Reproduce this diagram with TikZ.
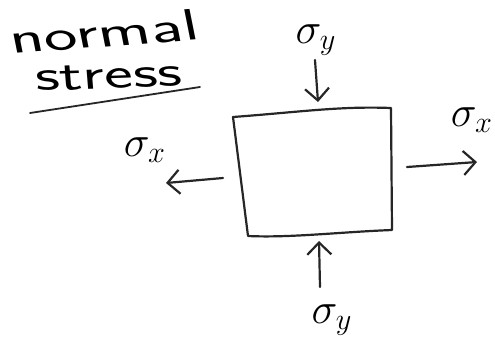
\documentclass[tikz,border=0pt]{standalone}
\usetikzlibrary{arrows.meta}
\begin{document}
\begin{tikzpicture}[x=1pt,y=-1pt, line cap=round, line join=round,
  ink/.style={line width=2.2pt, black!85},
  force/.style={ink, -{Straight Barb[length=12pt,width=24pt,line width=2.2pt]}},
  lbl/.style={inner sep=0pt, font=\fontsize{20}{20}\selectfont, scale=2.1, transform shape},
  titletext/.style={inner sep=0pt, font=\sffamily\fontsize{44}{44}\selectfont, transform shape}]
\useasboundingbox (0,0) rectangle (495,354);
% box corners
\coordinate (tl) at (233,117);
\coordinate (tr) at (391,108);
\coordinate (br) at (392,230);
\coordinate (bl) at (248,236);
\draw[ink] (tl) .. controls (300,112) and (340,106) .. (tr) -- (br) .. controls (340,232) and (290,238) .. (bl) -- cycle;
% title
\node[titletext, xscale=1.62, rotate=7, anchor=base west] (t1) at (12,54) {normal};
\node[titletext, xscale=1.55, rotate=3, anchor=base west] (t2) at (36,91) {stress};
\coordinate (u1) at (30,113);
\coordinate (u2) at (200,87);
\draw[ink, line width=1.8pt] (u1) -- (u2);
% labels
\node[lbl] (sytop) at (316,40) {$\sigma_y$};
\node[lbl] (sybot) at (332,320) {$\sigma_y$};
\node[lbl] (sxl) at (145,150) {$\sigma_x$};
\node[lbl] (sxr) at (472,120) {$\sigma_x$};
% arrows
\coordinate (a1s) at (315,60);
\coordinate (a1e) at (318,102);
\coordinate (a2s) at (320,287);
\coordinate (a2e) at (319,241);
\coordinate (a3s) at (223,178);
\coordinate (a3e) at (166,183);
\coordinate (a4s) at (407,167);
\coordinate (a4e) at (477,162);
\draw[force] (a1s) -- (a1e);
\draw[force] (a2s) -- (a2e);
\draw[force] (a3s) -- (a3e);
\draw[force] (a4s) -- (a4e);
\end{tikzpicture}
\end{document}
